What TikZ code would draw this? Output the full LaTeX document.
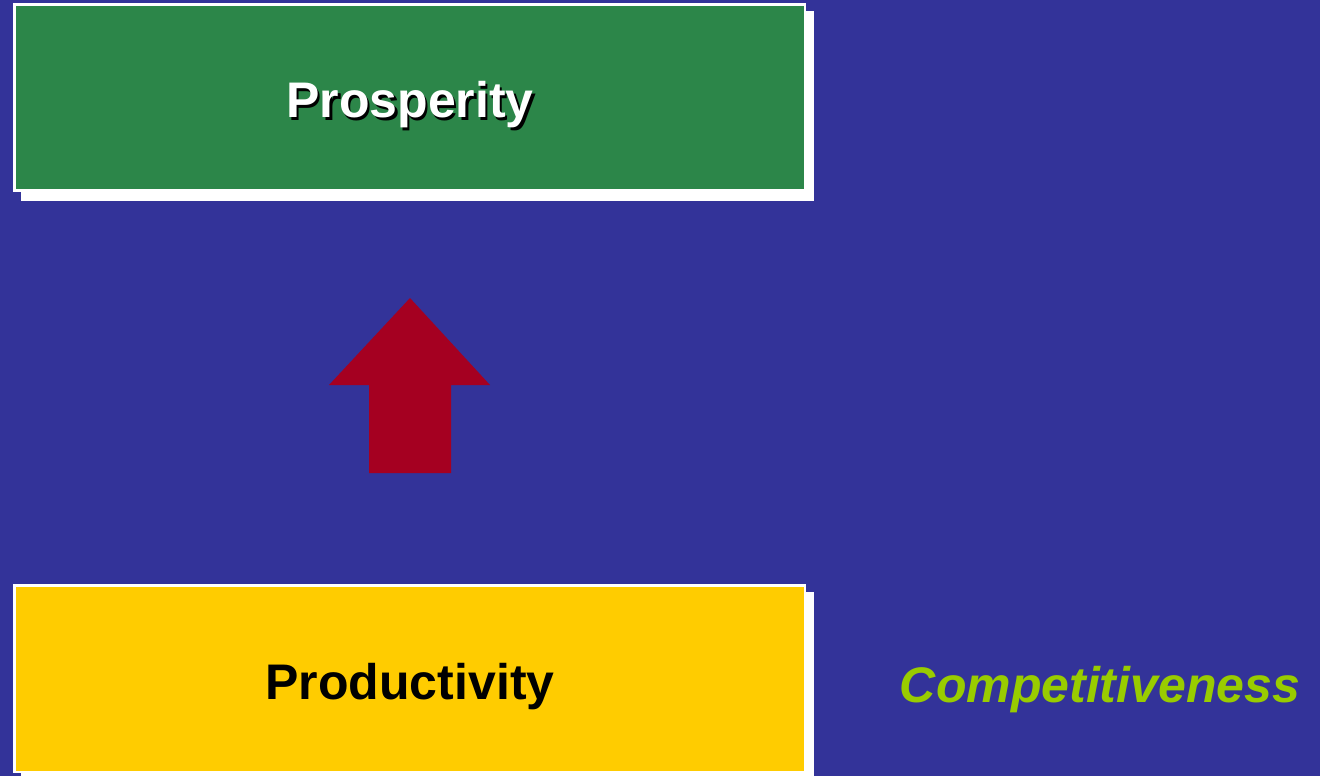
\documentclass[tikz,border=0pt]{standalone}
\usepackage{fontspec}
\setmainfont{Liberation Sans}
\definecolor{bgblue}{HTML}{333399}
\definecolor{boxgreen}{HTML}{2C8649}
\definecolor{boxyellow}{HTML}{FFCC00}
\definecolor{arrowred}{HTML}{A50021}
\definecolor{limegreen}{HTML}{99CC00}
\begin{document}
\begin{tikzpicture}[x=1pt,y=-1pt,
  shadowbox/.style={fill=white,draw=none},
  mainbox/.style={draw=white,line width=2.5pt},
  bigtext/.style={font=\fontsize{50}{60}\selectfont\bfseries}]
\fill[bgblue] (0,0) rectangle (1320,776);
\useasboundingbox (0,0) rectangle (1320,776);
% Prosperity box
\fill[shadowbox] (21,11) rectangle (814,201);
\draw[mainbox,fill=boxgreen] (14.5,4.5) rectangle (805,190.5);
\node[bigtext,text=black] (prosshadow) at (412.5,107.5) {Prosperity};
\node[bigtext,text=white] (pros) at (410,105) {Prosperity};
% Productivity box
\fill[shadowbox] (21,592) rectangle (814,776);
\draw[mainbox,fill=boxyellow] (14.5,585.5) rectangle (805,772);
\node[bigtext,text=black] (prod) at (410,687) {Productivity};
% arrow
\fill[arrowred] (369,473) -- (369,385) -- (329,385) -- (410,298) -- (490,385) -- (451,385) -- (451,473) -- cycle;
% Competitiveness
\node[font=\fontsize{50}{60}\selectfont\bfseries\itshape,text=limegreen] (comp) at (1100,690) {Competitiveness};
\end{tikzpicture}
\end{document}
